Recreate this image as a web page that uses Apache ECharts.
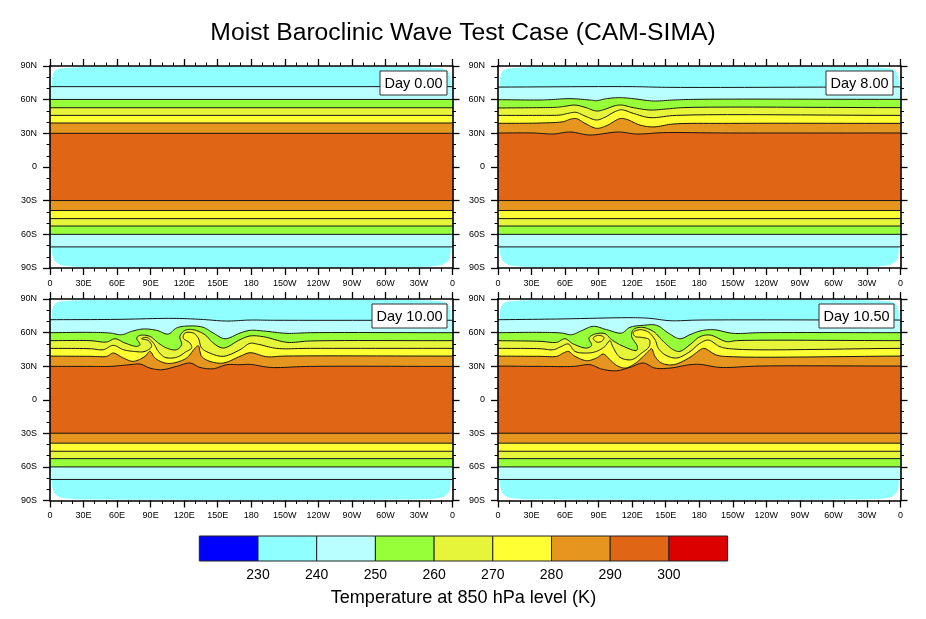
<!DOCTYPE html>
<html><head><meta charset="utf-8">
<script src="https://cdn.jsdelivr.net/npm/echarts@6/dist/echarts.min.js"></script>
<style>html,body{margin:0;padding:0;background:#fff}#c{width:926px;height:619px}</style>
</head><body><div id="c"></div>
<script>
const lonLabels = ['0','30E','60E','90E','120E','150E','180','150W','120W','90W','60W','30W','0'];
const latLabels = {'90':'90N','60':'60N','30':'30N','0':'0','-30':'30S','-60':'60S','-90':'90S'};
const levels = [230,240,250,260,270,280,290,300];
const bandColors = ['#0000FF','#8FFFFF','#B9FFFF','#96FF3A','#E6F53A','#FFFF33','#E6961F','#E06515','#DC0000'];
const dayLabels = ['Day 0.00','Day 8.00','Day 10.00','Day 10.50'];

const poleOutline = [[1,60],[1.5,71],[2,80],[4.5,85.8],[9,87.6],[18,88.5],[30,89],[330,89],[342,88.5],[351,87.6],[355.5,85.8],[358,80],[358.5,71],[359,60],
  [359,-60],[358.5,-71],[358,-78],[355.5,-84],[351,-87],[342,-88.5],[330,-89],[30,-89],[18,-88.5],[9,-87],[4.5,-84],[2,-78],[1.5,-71],[1,-60]];

const south240 = [[0,-71.2],[360,-71.2]];
const south250 = [[0,-60],[360,-60]];
const south260 = [[0,-52.6],[360,-52.6]];
const south270 = [[0,-46],[360,-46]];
const south280 = [[0,-38.8],[360,-38.8]];
const south290 = [[0,-29.9],[360,-29.9]];

const day0_240 = [[0,71.6],[360,71.6]];
const day0_250 = [[0,60.2],[360,60.2]];
const day0_260 = [[0,52.8],[360,52.8]];
const day0_270 = [[0,46],[360,46]];
const day0_280 = [[0,39.2],[360,39.2]];
const day0_290 = [[0,30],[360,30]];

const day8_240 = [[0,71.2],[120,71.6],[150,71],[360,71.4]];
const day8_250 = [[0,60],[37.5,59.7],[46.5,60],[64.4,60.9],[82,59.7],[88,59.1],[97,60.9],[109,61.8],[121,60.9],[139,58.8],[157,59.7],[178,60.3],[360,60.3]];
const day8_260 = [[0,52.6],[37.5,52.9],[52.4,53.2],[59.9,54.1],[68.8,55.2],[77.8,53.2],[88.2,49.9],[95.6,51.4],[104.6,54.6],[110.5,55.2],[121,52.9],[135.9,50.8],[150.7,51.7],[165.6,52.9],[360,52.9]];
const day8_270 = [[0,46],[37.5,46],[55.4,46.3],[62.9,47.8],[69.7,48.7],[77.8,45.4],[88.2,41.9],[95.6,44.3],[104.6,49.3],[110.5,51],[121,47.8],[135.9,44],[159.7,46],[360,46]];
const day8_280 = [[0,38.9],[37.5,39.2],[58.4,40.4],[64.4,42.5],[70.3,43.1],[77.8,38.9],[88.2,34.5],[97.1,36.8],[109,43.1],[115,42.5],[126.9,37.4],[138.8,35.7],[156.7,38.3],[207,38.9],[360,38.9]];
const day8_290 = [[0,30.3],[31.6,30.3],[49.5,29.4],[64.4,31.2],[82.2,28.5],[107.6,31.2],[123.9,29.4],[147.8,30.6],[207,30.3],[360,30.3]];

const day10_240 = [[0,71.5],[60,71.8],[110,72.7],[135,71.8],[158,70.3],[179,71.2],[200,71],[360,71]];
const day10_250 = [[0,59.9],[35.8,60.2],[53.6,59.6],[64.1,58.1],[73,61.1],[83.4,63.2],[95.4,62],[105.8,58.7],[113.2,64.1],[123.7,65.9],[137,64.7],[146,59.6],[156.5,54.5],[170,59.6],[179,62],[191,61.4],[212,59.3],[233,59.9],[360,59.9]];
const day10_260 = [[0,52.8],[35.8,52.8],[50.7,51.6],[58.1,54.5],[67,50.7],[77.5,47.7],[80.5,49.2],[77.5,55.1],[80.5,57.5],[89.4,56.6],[96.9,50.7],[104.3,46.2],[113.2,44.7],[117.7,49.2],[116.2,56.6],[120.7,62],[128.1,62.6],[138.6,58.1],[146,50.7],[155,46.2],[170,53.7],[179,57],[191,56.3],[212,51.3],[233,52.5],[360,52.8]];
const day10_270 = [[0,45.9],[35.8,45.6],[47.7,44.7],[56.6,48.6],[65.6,44.7],[74.5,43.2],[85,43.2],[90.9,47.7],[88,52.8],[82,54.5],[86.4,55.7],[92.4,50.7],[96.9,43.2],[102.8,37.9],[113.2,37.9],[122.2,43.2],[126.7,46.2],[125.2,50.7],[119.2,55.1],[120.7,59.6],[128.1,59.6],[132.6,55.1],[135.6,46.2],[143,41.7],[155,38.8],[170,44.7],[179,50.4],[186.4,49.5],[202.7,45.9],[233,45.9],[360,45.9]];
const day10_280 = [[0,39],[35.8,38.8],[50.7,38.8],[56.6,41.7],[65.6,37.3],[74.5,34.3],[85,38.8],[89.4,43.2],[93.9,37.3],[102.8,32.8],[110.3,32.8],[122.2,37.3],[130,46.5],[132.6,48.3],[135.6,38.8],[143,34.3],[155,32.8],[170,38.8],[179,42],[194,38.4],[209,39],[360,39]];
const day10_290 = [[0,29.8],[35.8,29.8],[53.6,29.8],[71.5,31.3],[80.5,31.9],[89.4,28.3],[99.8,26.8],[113.2,29.8],[125.2,32.8],[134.1,28.9],[146,27.7],[158,31.3],[170,31.3],[179,31.6],[197,28.9],[233,29.8],[360,29.8]];

const day105_240 = [[0,71.5],[52.4,72.1],[121,73.3],[136,72.7],[154,70.6],[180.7,71.2],[360,71.2]];
const day105_250 = [[0,59.9],[37.6,60.2],[56.9,59.6],[65.9,58.1],[74.8,61.7],[85.2,65.6],[97.2,62.6],[110.6,59.6],[118,64.7],[130,66.5],[141.9,66.5],[152.3,59.6],[162.7,54.5],[171.7,58.1],[180.6,61.4],[192.6,62.6],[210.5,59.3],[234,59.9],[360,59.9]];
const day105_260 = [[0,52.8],[37.6,52.2],[52.5,51.3],[59.9,54.5],[67.4,49.8],[79.3,46.2],[83.7,48.6],[81.4,55.1],[86.7,58.7],[95.7,59],[101.6,53.7],[112.1,47.7],[124,44.1],[124.6,47.7],[119.5,56.6],[121,62.6],[128.5,64.7],[138.9,61.1],[147.8,52.2],[156.8,44.7],[162.7,43.2],[171.7,49.2],[180.6,56.3],[189.6,57.8],[204.5,51.9],[213.5,52.8],[360,52.8]];
const day105_270 = [[0,45.9],[37.6,45.6],[49.5,44.7],[56.9,47.7],[62.9,49.8],[68.9,43.2],[79.3,41.7],[88.2,43.2],[95.7,47.7],[100.1,52.8],[102.5,47.7],[109.1,37.9],[119.5,35.8],[128.5,41.7],[135.3,47.7],[135.3,53.7],[128.5,55.7],[122.5,56.6],[121,60.2],[127,62.6],[134.4,60.5],[140.4,53.7],[143.3,46.2],[149.3,40.2],[159.7,37.3],[171.7,43],[180.6,50.4],[188.2,53.3],[198.6,47.4],[210.5,45.3],[360,45.9]];
const day105_270_island = [[85.2,55.1],[89.7,57.5],[94.8,55.7],[92.7,52.2],[88.2,51.6]];
const day105_280 = [[0,39],[37.6,38.8],[52.5,38.8],[58.4,41.7],[62.9,43.2],[68.9,38.8],[79.3,34.9],[88.2,37.3],[94.2,40.8],[100.1,35.8],[106.1,30.7],[113.5,28.3],[121,31.3],[128.5,37.3],[134.4,43.2],[137.4,45.6],[140.4,38.8],[146.3,32.8],[156.8,31.3],[171.7,37.9],[180.6,44.4],[184.3,45.9],[195.6,39.9],[210.5,38.4],[360,39]];
const day105_290 = [[0,30.1],[37.6,29.8],[67.4,29.8],[82.3,31.3],[92.7,27.4],[106.1,25.9],[118,28.9],[130,32.8],[140.4,28.3],[153.8,28.3],[171.7,31.3],[180.6,31.6],[198.6,28.9],[234,30.1],[360,30.1]];

const day0North = [day0_240,day0_250,day0_260,day0_270,day0_280,day0_290];
const day8North = [day8_240,day8_250,day8_260,day8_270,day8_280,day8_290];
const day10North = [day10_240,day10_250,day10_260,day10_270,day10_280,day10_290];
const day105North = [day105_240,day105_250,day105_260,day105_270,day105_280,day105_290];
const southAll = [south240,south250,south260,south270,south280,south290];

// Catmull-Rom (centripetal) through the read points, in pixel space
function smooth(pts, closed){
  const n = pts.length;
  if (n < 3) return pts;
  const out = [];
  const get = i => closed ? pts[(i+n)%n] : pts[Math.max(0,Math.min(n-1,i))];
  const segs = closed ? n : n-1;
  const tj = (a,b) => Math.max(1e-3, Math.sqrt(Math.hypot(b[0]-a[0],b[1]-a[1])));
  for (let i=0;i<segs;i++){
    let p0=get(i-1),p1=get(i),p2=get(i+1),p3=get(i+2);
    if (!closed && i===0) p0=[2*p1[0]-p2[0],2*p1[1]-p2[1]];
    if (!closed && i===segs-1) p3=[2*p2[0]-p1[0],2*p2[1]-p1[1]];
    const t1=tj(p0,p1),t2=t1+tj(p1,p2),t3=t2+tj(p2,p3);
    const steps=10;
    for (let s=0;s<steps;s++){
      const t=t1+(t2-t1)*s/steps;
      const L=(a,b,ta,tb)=>[a[0]*(tb-t)/(tb-ta)+b[0]*(t-ta)/(tb-ta),a[1]*(tb-t)/(tb-ta)+b[1]*(t-ta)/(tb-ta)];
      const A1=L(p0,p1,0,t1),A2=L(p1,p2,t1,t2),A3=L(p2,p3,t2,t3);
      const B1=L(A1,A2,0,t2),B2=L(A2,A3,t1,t3);
      out.push(L(B1,B2,t1,t2));
    }
  }
  if (!closed) out.push(pts[n-1]);
  return out;
}

function makeLayers(north, islands){
  const layers = [{outline: poleOutline, fill: bandColors[1]}];
  north.forEach((c,i)=>{
    layers.push({north:c, south:southAll[i], fill:bandColors[i+2]});
  });
  (islands||[]).forEach(isl=>layers.push({island:isl.pts, fill:bandColors[isl.band]}));
  return layers;
}
const panelLayers = [
  makeLayers(day0North), makeLayers(day8North), makeLayers(day10North),
  makeLayers(day105North,[{pts:day105_270_island, band:5}])
];

const lineColor = '#151515';
function renderer(panel){
  return function(params, api){
    const layer = panelLayers[panel][api.value(2)];
    const px = a => a.map(p=>api.coord(p));
    if (layer.outline){
      return {type:'polygon',shape:{points:smooth(px(layer.outline),true)},style:{fill:layer.fill,stroke:null}};
    }
    if (layer.island){
      return {type:'polygon',shape:{points:smooth(px(layer.island),true)},style:{fill:layer.fill,stroke:lineColor,lineWidth:1}};
    }
    const n=smooth(px(layer.north),false), s=smooth(px(layer.south),false);
    return {type:'group',children:[
      {type:'polygon',shape:{points:n.concat(s.slice().reverse())},style:{fill:layer.fill,stroke:null}},
      {type:'polyline',shape:{points:n},style:{fill:null,stroke:lineColor,lineWidth:1}},
      {type:'polyline',shape:{points:s},style:{fill:null,stroke:lineColor,lineWidth:1}}
    ]};
  };
}

const panelBoxes = [
  {left:50,top:66,width:402.5,height:202},
  {left:498,top:66,width:402.5,height:202},
  {left:50,top:299,width:402.5,height:201.5},
  {left:498,top:299,width:402.5,height:201.5}
];
const labelBoxes = [[380,71],[826,71],[372,304],[819,304]];

const grids=[],xAxes=[],yAxes=[],series=[];
const axStyle={lineStyle:{color:'#000',width:1.6}};
const lab={color:'#000',fontFamily:'Liberation Sans',fontSize:9};
panelBoxes.forEach((b,i)=>{
  grids.push(b);
  const xa=(pos,show)=>({type:'value',gridIndex:i,min:0,max:360,interval:30,position:pos,z:6,
    axisLine:{show:true,onZero:false,...axStyle},
    axisTick:{show:true,length:7,lineStyle:{color:'#000',width:1.3}},
    minorTick:{show:true,splitNumber:3,length:3.5,lineStyle:{color:'#000',width:1}},
    splitLine:{show:false},minorSplitLine:{show:false},
    axisLabel:show?{...lab,margin:11,showMinLabel:true,showMaxLabel:true,hideOverlap:false,formatter:v=>lonLabels[Math.round(v/30)]}:{show:false}});
  const ya=(pos,show)=>({type:'value',gridIndex:i,min:-90,max:90,interval:30,position:pos,z:6,
    axisLine:{show:true,onZero:false,...axStyle},
    axisTick:{show:true,length:7,lineStyle:{color:'#000',width:1.3}},
    minorTick:{show:true,splitNumber:3,length:3.5,lineStyle:{color:'#000',width:1}},
    splitLine:{show:false},minorSplitLine:{show:false},
    axisLabel:show?{...lab,margin:13,showMinLabel:true,showMaxLabel:true,hideOverlap:false,formatter:v=>latLabels[String(v)]}:{show:false}});
  xAxes.push(xa('bottom',true),xa('top',false));
  yAxes.push(ya('left',true),ya('right',false));
  series.push({type:'custom',name:dayLabels[i],xAxisIndex:i*2,yAxisIndex:i*2,coordinateSystem:'cartesian2d',clip:true,
    renderItem:renderer(i),encode:{x:0,y:1},silent:true,animation:false,z:2,
    data:panelLayers[i].map((l,k)=>[0,0,k])});
});

// colour bar
const barIndex=panelBoxes.length;
grids.push({left:199.3,top:536,width:528.3,height:25});
xAxes.push({type:'value',gridIndex:barIndex,min:220,max:310,interval:10,position:'bottom',
  axisLine:{show:false},axisTick:{show:false},splitLine:{show:false},
  axisLabel:{color:'#000',fontFamily:'Liberation Sans',fontSize:14,margin:7,hideOverlap:false,
    formatter:v=>levels.includes(v)?String(v):''},
  name:'Temperature at 850 hPa level (K)',nameLocation:'middle',nameGap:28,
  nameTextStyle:{color:'#000',fontFamily:'Liberation Sans',fontSize:18.1}});
yAxes.push({type:'value',gridIndex:barIndex,min:0,max:1,show:false});
series.push({type:'custom',xAxisIndex:xAxes.length-1,yAxisIndex:yAxes.length-1,silent:true,animation:false,clip:false,
  encode:{x:[0,1]},
  data:bandColors.map((c,i)=>[i===0?220:levels[i-1],i===levels.length?310:levels[i],i]),
  renderItem:(p,api)=>{
    const a=api.coord([api.value(0),1]),b=api.coord([api.value(1),0]);
    return {type:'rect',shape:{x:a[0],y:a[1],width:b[0]-a[0],height:b[1]-a[1]},
      style:{fill:bandColors[api.value(2)],stroke:'#222',lineWidth:1}};
  }});

const titles=[{text:'Moist Baroclinic Wave Test Case (CAM-SIMA)',left:458,textAlign:'center',top:16,
  textStyle:{color:'#000',fontFamily:'Liberation Sans',fontSize:24.7,fontWeight:'normal'}}];
dayLabels.forEach((d,i)=>{
  titles.push({text:d,left:labelBoxes[i][0],top:labelBoxes[i][1],z:10,backgroundColor:'#fff',borderColor:'#333',borderWidth:1,
    padding:[4.5,4.5,4,4.5],
    textStyle:{color:'#000',fontFamily:'Liberation Sans',fontSize:14.5,fontWeight:'normal',lineHeight:16}});
});

const chart=echarts.init(document.getElementById('c'),null,{renderer:'canvas'});
chart.setOption({animation:false,backgroundColor:'#fff',tooltip:{show:false},title:titles,grid:grids,xAxis:xAxes,yAxis:yAxes,series:series});
</script></body></html>
